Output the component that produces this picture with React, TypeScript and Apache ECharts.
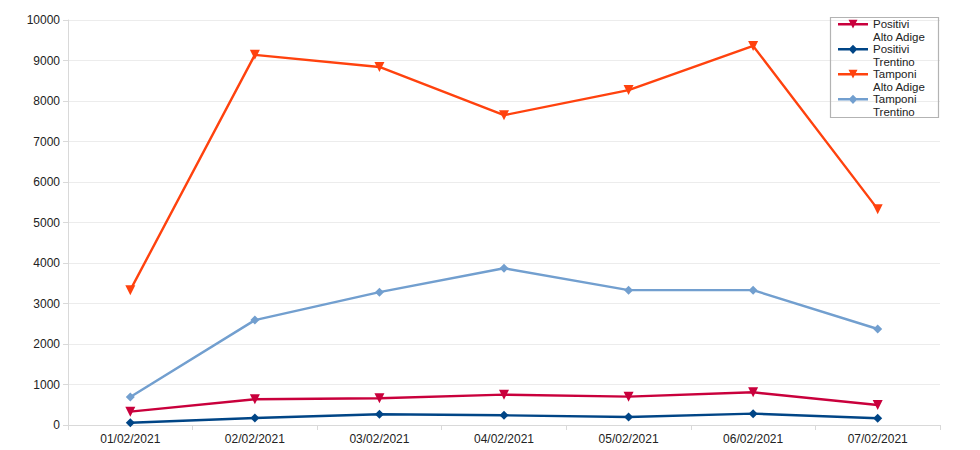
import React, { useEffect, useRef } from "react";
import * as echarts from "echarts";

const categories = ["01/02/2021", "02/02/2021", "03/02/2021", "04/02/2021", "05/02/2021", "06/02/2021", "07/02/2021"];
const positiviAltoAdige = [330, 635, 660, 750, 700, 807, 494];
const positiviTrentino = [57, 173, 264, 240, 198, 280, 165];
const tamponiAltoAdige = [3330, 9140, 8840, 7650, 8270, 9360, 5330];
const tamponiTrentino = [690, 2590, 3280, 3870, 3330, 3330, 2370];
const yTicks = [0, 10000, 1000];

const FONT = "Liberation Sans, Arial, sans-serif";

// legend icons: line + marker placed on the first text line (icon box 30 x 25)
const EXTENT = "M0 0 L0.01 0 L0.01 0.01 Z M29.99 24.99 L30 24.99 L30 25 Z ";
const LINE = "M0 5.1 L30 5.1 L30 7.5 L0 7.5 Z ";
const ICON_TRI = "path://" + EXTENT + LINE + "M10.5 1.7 L19.5 1.7 L15 10.5 Z";
const ICON_DIA = "path://" + EXTENT + LINE + "M15 1.7 L19.4 6.3 L15 10.9 L10.6 6.3 Z";

export default function App() {
  const ref = useRef<HTMLDivElement>(null);
  useEffect(() => {
    if (!ref.current) return;
    const chart = echarts.init(ref.current, undefined, { renderer: "svg" });
    const mk = (name: string, data: number[], color: string, symbol: string, rotate: number, size: number) => ({
      name,
      type: "line",
      data,
      symbol,
      symbolRotate: rotate,
      symbolSize: size,
      showSymbol: true,
      lineStyle: { color, width: 2.4 },
      itemStyle: { color },
    });
    chart.setOption({
      animation: false,
      backgroundColor: "#ffffff",
      grid: { left: 68, right: 40, top: 20, bottom: 25 },
      graphic: [
        {
          type: "rect",
          shape: { x: 830.5, y: 17.5, width: 108, height: 100 },
          style: { fill: "none", stroke: "#b3b3b3", lineWidth: 1.2 },
          z: 100,
        },
      ],
      legend: {
        orient: "vertical",
        left: 838,
        top: 18,
        itemWidth: 30,
        itemHeight: 25,
        itemGap: 0,
        padding: 0,
        borderWidth: 0,
        itemStyle: { borderWidth: 0 },
        formatter: (n: string) => n.replace(" ", "\n"),
        textStyle: { fontFamily: FONT, fontSize: 11.5, color: "#222", lineHeight: 12.5 },
        data: [
          { name: "Positivi Alto Adige", icon: ICON_TRI },
          { name: "Positivi Trentino", icon: ICON_DIA },
          { name: "Tamponi Alto Adige", icon: ICON_TRI },
          { name: "Tamponi Trentino", icon: ICON_DIA },
        ],
      },
      xAxis: {
        type: "category",
        data: categories,
        boundaryGap: true,
        axisLine: { show: true, lineStyle: { color: "#d9d9d9" } },
        axisTick: { show: true, length: 5, lineStyle: { color: "#d9d9d9" } },
        axisLabel: { fontFamily: FONT, fontSize: 12, color: "#222", margin: 8 },
      },
      yAxis: {
        type: "value",
        min: yTicks[0],
        max: yTicks[1],
        interval: yTicks[2],
        axisLine: { show: true, lineStyle: { color: "#d9d9d9" } },
        axisTick: { show: true, length: 5, lineStyle: { color: "#d9d9d9" } },
        splitLine: { show: true, lineStyle: { color: "#ececec" } },
        axisLabel: { fontFamily: FONT, fontSize: 12, color: "#222", margin: 8, formatter: (v: number) => String(v) },
      },
      series: [
        mk("Positivi Alto Adige", positiviAltoAdige, "#c9003c", "triangle", 180, 10),
        mk("Positivi Trentino", positiviTrentino, "#004586", "diamond", 0, 9),
        mk("Tamponi Alto Adige", tamponiAltoAdige, "#ff420e", "triangle", 180, 10),
        mk("Tamponi Trentino", tamponiTrentino, "#729fcf", "diamond", 0, 9),
      ],
    });
    return () => chart.dispose();
  }, []);
  return <div ref={ref} style={{ width: 980, height: 450, position: "absolute", left: 0, top: 0 }} />;
}
